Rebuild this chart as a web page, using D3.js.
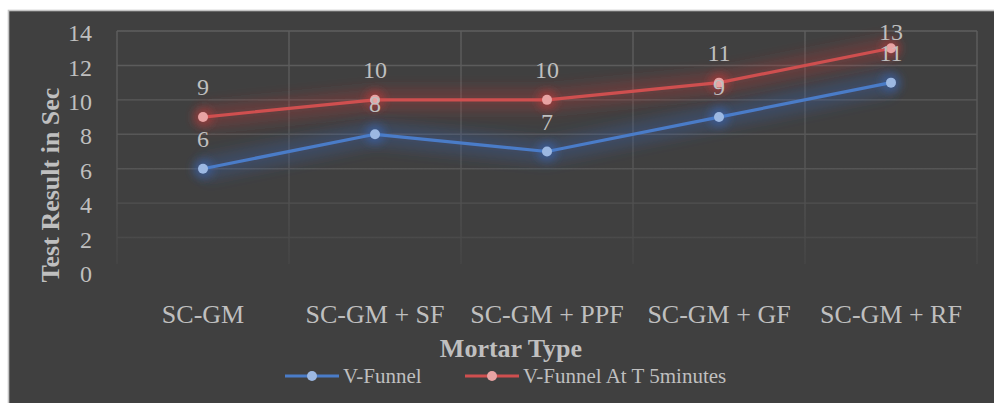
<!DOCTYPE html>
<html><head><meta charset="utf-8">
<script src="https://cdn.jsdelivr.net/npm/d3@7"></script>
<style>
html,body{margin:0;padding:0;background:#fff;}
svg{display:block;}
text{font-family:"Liberation Serif","Times New Roman",serif;fill:#bfbfbf;}
</style></head>
<body>
<svg id="c" width="994" height="403"></svg>
<script>
const categories = ["SC-GM", "SC-GM + SF", "SC-GM + PPF", "SC-GM + GF", "SC-GM + RF"];
const vFunnel = [6, 8, 7, 9, 11];
const vFunnel5 = [9, 10, 10, 11, 13];
const seriesNames = ["V-Funnel", "V-Funnel At T 5minutes"];
const yTicks = [0, 2, 4, 6, 8, 10, 12, 14];
const yTitle = "Test Result in Sec";
const xTitle = "Mortar Type";

const svg = d3.select("#c");
const W = 994, H = 403;
const plot = {l: 117, r: 977, t: 31, b: 272};

const defs = svg.append("defs");
const g1 = defs.append("linearGradient").attr("id","gridGrad")
  .attr("gradientUnits","userSpaceOnUse").attr("x1",0).attr("y1",plot.t).attr("x2",0).attr("y2",plot.b);
g1.append("stop").attr("offset","0%").attr("stop-color","#5e5e5e");
g1.append("stop").attr("offset","55%").attr("stop-color","#565656");
g1.append("stop").attr("offset","100%").attr("stop-color","#454545");
const f = defs.append("filter").attr("id","glow").attr("x","-20%").attr("y","-80%").attr("width","140%").attr("height","260%");
f.append("feGaussianBlur").attr("stdDeviation",7);
const f2 = defs.append("filter").attr("id","glow2").attr("x","-100%").attr("y","-100%").attr("width","300%").attr("height","300%");
f2.append("feGaussianBlur").attr("stdDeviation",4);

// chart background
svg.append("rect").attr("x",8.5).attr("y",10.5).attr("width",W+10).attr("height",H+10)
  .attr("fill","#404040").attr("stroke","#c4c4c4").attr("stroke-width",1.6);

const x = d3.scaleBand().domain(categories).range([plot.l, plot.r]).padding(0);
const y = d3.scaleLinear().domain([0,14]).range([plot.b, plot.t]);
const cx = d => x(d) + x.bandwidth()/2;

// gridlines
const grid = svg.append("g");
grid.selectAll("line.h").data(yTicks.filter(v=>v>0)).join("line")
  .attr("x1",plot.l).attr("x2",plot.r).attr("y1",d=>y(d)).attr("y2",d=>y(d))
  .attr("stroke","url(#gridGrad)").attr("stroke-width",1.4);
const vx = categories.map(c=>x(c)).concat([plot.r]);
grid.selectAll("line.v").data(vx).join("line")
  .attr("x1",d=>d).attr("x2",d=>d).attr("y1",plot.t).attr("y2",plot.b-8)
  .attr("stroke","url(#gridGrad)").attr("stroke-width",1.4);

// y tick labels
const yAxis = d3.axisLeft(y).tickValues(yTicks).tickSize(0).tickPadding(0);
const ya = svg.append("g").attr("transform",`translate(92,2)`).call(yAxis);
ya.select(".domain").remove();
ya.selectAll("text").attr("font-size",24).attr("fill","#bfbfbf")
  .style("font-family","Liberation Serif");

// x category labels
const xAxis = d3.axisBottom(x).tickSize(0).tickPadding(0);
const xa = svg.append("g").attr("transform",`translate(0,${323-19})`).call(xAxis);
xa.select(".domain").remove();
xa.selectAll("text").attr("font-size",26).attr("fill","#bfbfbf").attr("dy",0)
  .attr("y",19).style("font-family","Liberation Serif");

// axis titles
svg.append("text").attr("transform","translate(59,185) rotate(-90)")
  .attr("text-anchor","middle").attr("font-size",26).attr("font-weight","bold").text(yTitle);
svg.append("text").attr("x",511).attr("y",357)
  .attr("text-anchor","middle").attr("font-size",26).attr("font-weight","bold").text(xTitle);

const series = [
  {name: seriesNames[0], values: vFunnel, line:"#4a7cc8", marker:"#9cb8e2", glow:"#3a68b8"},
  {name: seriesNames[1], values: vFunnel5, line:"#cf4f4f", marker:"#e8a3a3", glow:"#c03c3c"}
];
const line = d3.line().x((d,i)=>cx(categories[i])).y(d=>y(d));

series.forEach(s=>{
  const gg = svg.append("g");
  gg.append("path").attr("d",line(s.values)).attr("fill","none")
    .attr("stroke",s.glow).attr("stroke-width",22).attr("stroke-linejoin","round")
    .attr("stroke-opacity",0.3).attr("filter","url(#glow)");
  gg.selectAll("circle.g").data(s.values).join("circle")
    .attr("cx",(d,i)=>cx(categories[i])).attr("cy",d=>y(d)).attr("r",10)
    .attr("fill",s.glow).attr("fill-opacity",0.55).attr("filter","url(#glow2)");
});
series.forEach(s=>{
  const gg = svg.append("g");
  gg.append("path").attr("d",line(s.values)).attr("fill","none")
    .attr("stroke",s.line).attr("stroke-width",3.2).attr("stroke-linejoin","round");
  gg.selectAll("circle.m").data(s.values).join("circle")
    .attr("cx",(d,i)=>cx(categories[i])).attr("cy",d=>y(d)).attr("r",5)
    .attr("fill",s.marker);
});
// data labels (kept inside the chart area, as the original does)
series.forEach(s=>{
  svg.append("g").selectAll("text").data(s.values).join("text")
    .attr("x",(d,i)=>cx(categories[i])).attr("y",d=>Math.max(y(d)-22, plot.t+9))
    .attr("text-anchor","middle").attr("font-size",24).text(d=>d);
});

// legend
const legX = [285, 465];
series.forEach((s,i)=>{
  const lg = svg.append("g").attr("transform",`translate(${legX[i]},376)`);
  lg.append("line").attr("x1",0).attr("x2",54).attr("y1",0).attr("y2",0)
    .attr("stroke",s.line).attr("stroke-width",3.2);
  lg.append("circle").attr("cx",27).attr("cy",0).attr("r",5).attr("fill",s.marker);
  lg.append("text").attr("x",58).attr("y",7).attr("font-size",21).text(s.name);
});
</script>
</body></html>
